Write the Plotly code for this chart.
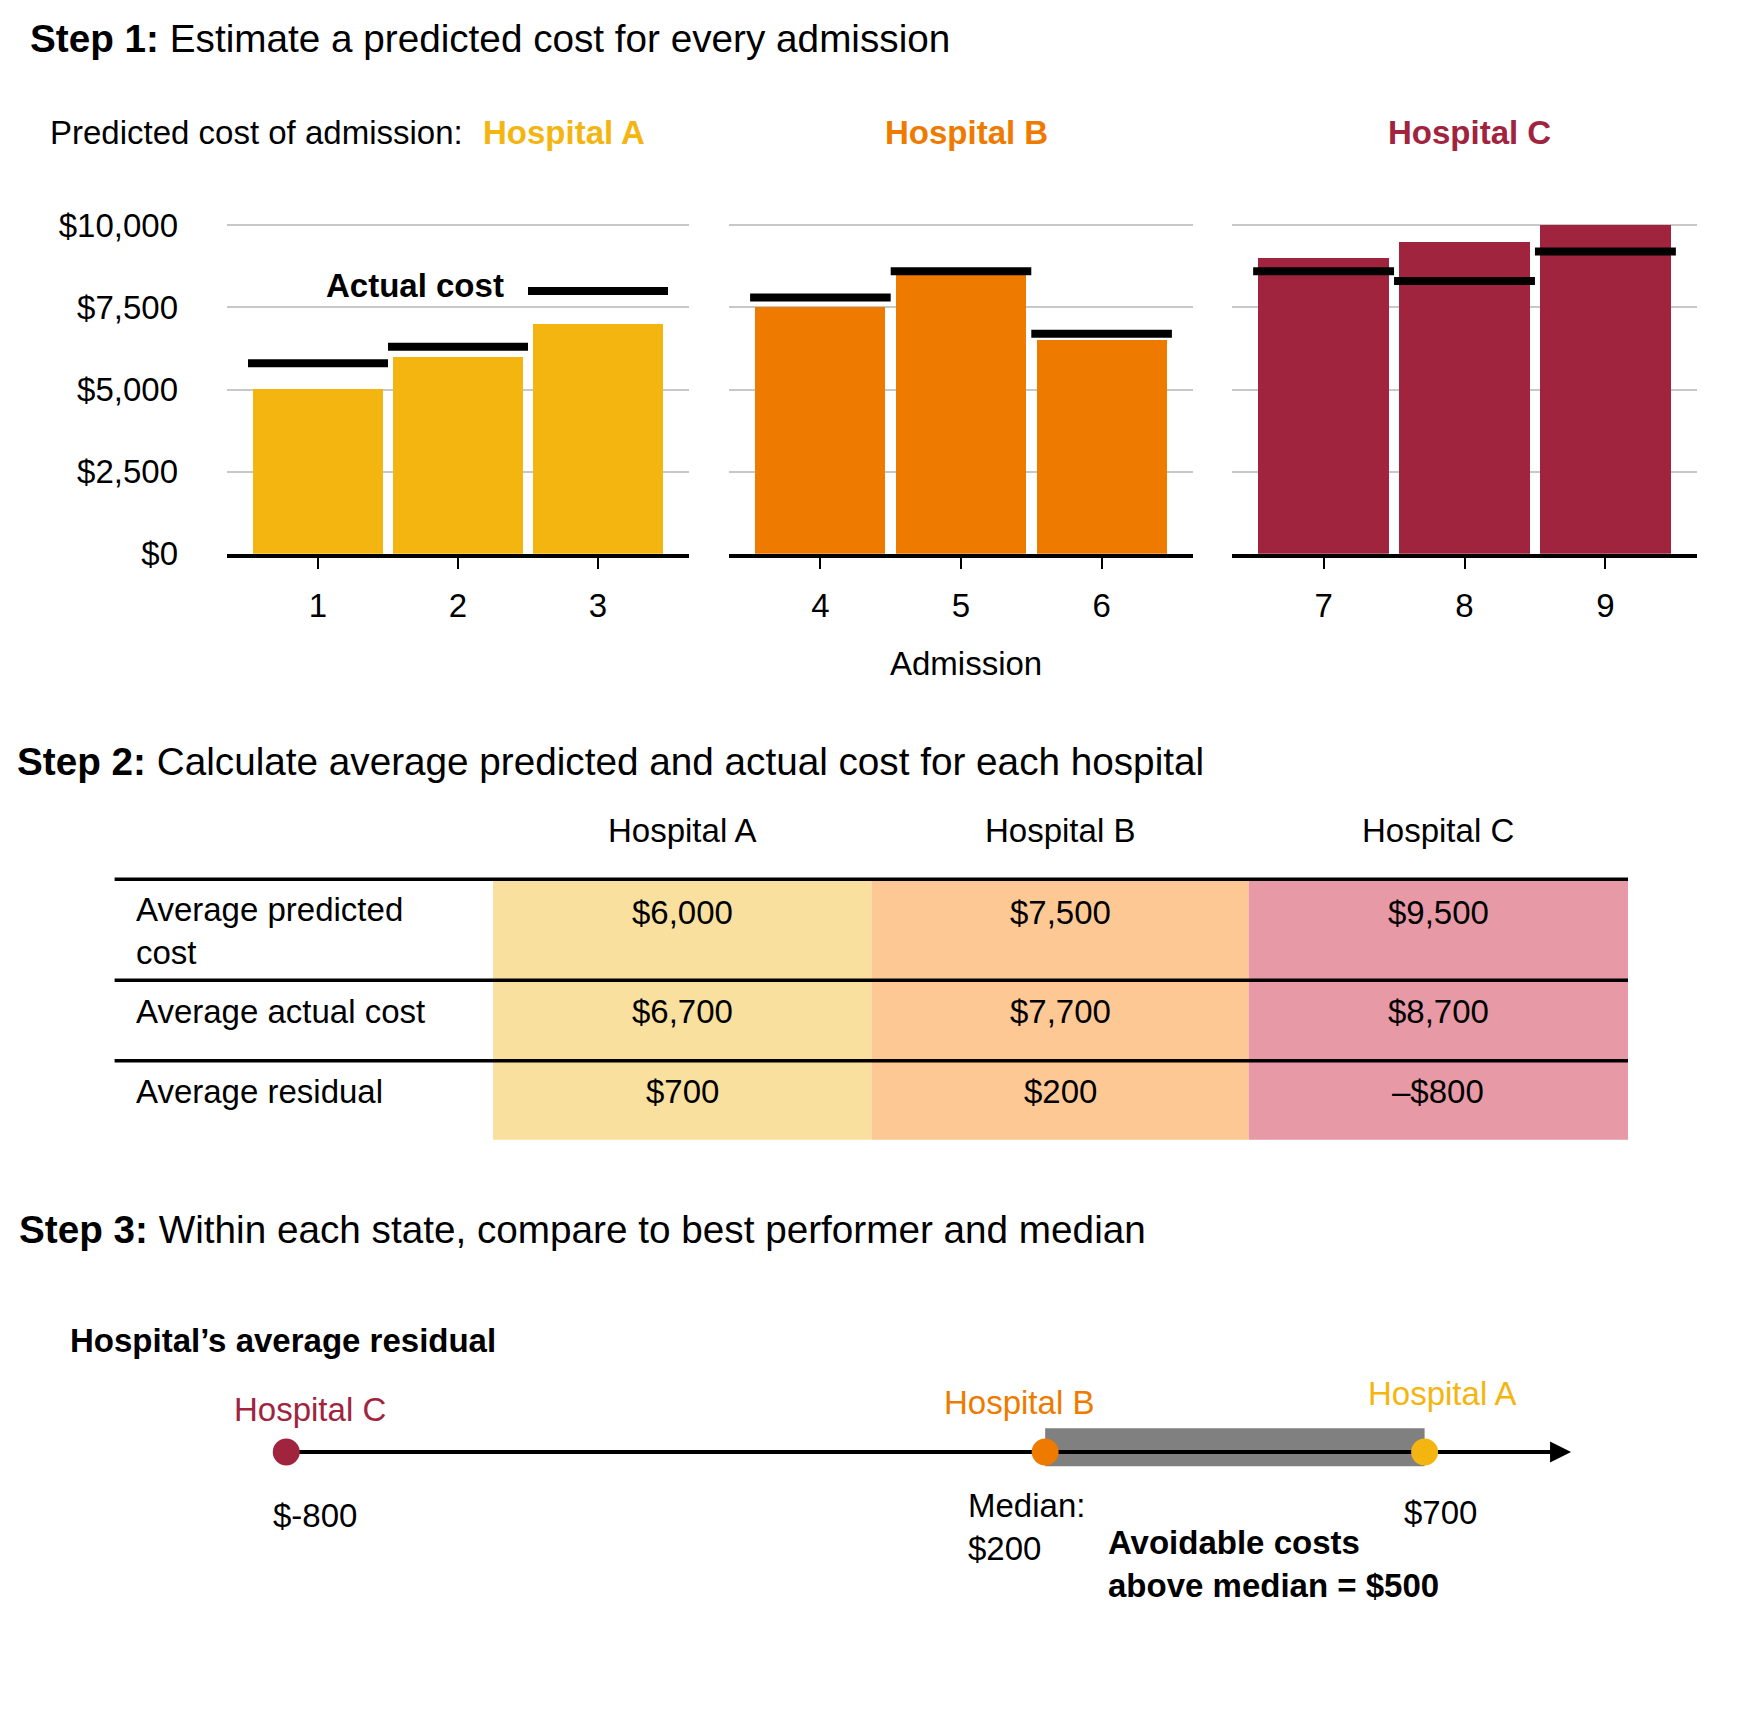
import numpy as np
import plotly.graph_objects as go

# page body keeps its default 8px margin, so the figure is 16px smaller than the window
PAGE_W, PAGE_H = 1745, 1725
OFF = 8
W, H = PAGE_W - 2 * OFF, PAGE_H - 2 * OFF
FONT = "Liberation Sans, Arial, sans-serif"

hospitals = ["Hospital A", "Hospital B", "Hospital C"]
admissions = [[1, 2, 3], [4, 5, 6], [7, 8, 9]]
predicted = [[5000, 6000, 7000], [7500, 8500, 6500], [9000, 9500, 10000]]
actual = [[5800, 6300, 8000], [7800, 8600, 6700], [8600, 8300, 9200]]
y_ticks = [0, 2500, 5000, 7500, 10000]
y_tick_text = ["$0", "$2,500", "$5,000", "$7,500", "$10,000"]

bar_colors = ["#F5B511", "#EE7A00", "#A0243E"]
cell_colors = ["#F9E09E", "#FEC894", "#E899A6"]

# step 2 / step 3 numbers come straight from the admissions
avg_pred = [int(np.mean(p)) for p in predicted]
avg_act = [int(np.mean(a)) for a in actual]
avg_resid = [a - p for a, p in zip(avg_act, avg_pred)]
median_resid = int(np.median(avg_resid))


def px(x):
    return (x - OFF) / W


def py(y):
    return 1 - (y - OFF) / H


def money(v, style="table"):
    if v < 0:
        return ("\u2013$" if style == "table" else "$-") + f"{-v:,}"
    return f"${v:,}"


fig = go.Figure()

# ---- step 1: bar panels ----
x_domains = [(227, 689), (729, 1193), (1232, 1697)]
for i in range(3):
    n = "" if i == 0 else str(i + 1)
    fig.add_trace(go.Bar(
        x=admissions[i], y=predicted[i], width=0.925,
        marker=dict(color=bar_colors[i], line=dict(width=0)),
        xaxis="x" + n, yaxis="y" + n, showlegend=False, hoverinfo="skip"))
    seg_x, seg_y = [], []
    for a, v in zip(admissions[i], actual[i]):
        seg_x += [a - 0.5, a + 0.5, None]
        seg_y += [v, v, None]
    fig.add_trace(go.Scatter(
        x=seg_x, y=seg_y, mode="lines", line=dict(color="black", width=8),
        xaxis="x" + n, yaxis="y" + n, showlegend=False, hoverinfo="skip"))

    fig.update_layout(**{
        "xaxis" + n: dict(
            domain=[px(x_domains[i][0]), px(x_domains[i][1])],
            range=[admissions[i][0] - 0.65, admissions[i][-1] + 0.65],
            tickvals=admissions[i], showgrid=False, zeroline=False,
            showline=True, linecolor="black", linewidth=3.5,
            ticks="outside", ticklen=11, tickwidth=2, tickcolor="black",
            ticklabelstandoff=9,
            tickfont=dict(size=33, color="black", family=FONT),
            anchor="y" + n),
        "yaxis" + n: dict(
            domain=[py(556.5), py(209.9)], range=[0, 10400],
            tickvals=y_ticks, ticktext=y_tick_text,
            showticklabels=(i == 0), showgrid=True, gridcolor="#C8C8C8",
            gridwidth=1.5, zeroline=False, showline=False, ticks="",
            ticklabelstandoff=48,
            tickfont=dict(size=33, color="black", family=FONT),
            anchor="x" + n),
    })

# ---- step 3: residual number line ----
LINE_Y = 1467.5
fig.add_trace(go.Scatter(
    x=avg_resid, y=[0, 0, 0], mode="markers",
    marker=dict(size=27, color=bar_colors, line=dict(width=0)),
    xaxis="x4", yaxis="y4", showlegend=False, hoverinfo="skip", cliponaxis=False))

# linear residual scale: about -1177 at the left page edge, 1122 at the right page edge
fig.update_layout(
    xaxis4=dict(domain=[px(OFF), px(PAGE_W - OFF)],
                range=[-1177.2 + OFF / 0.7589, 1122.2 - OFF / 0.7589], visible=False),
    yaxis4=dict(domain=[py(LINE_Y + 40), py(LINE_Y - 40)], range=[-1, 1], visible=False),
)

shapes = []
ann = []


def text(x, y, s, size=33, color="black", xanchor="left", bold=False, **kw):
    ann.append(dict(
        x=px(x), y=py(y), xref="paper", yref="paper", text=f"<b>{s}</b>" if bold else s,
        showarrow=False, xanchor=xanchor, yanchor="middle", align="left",
        font=dict(size=size, color=color, family=FONT), **kw))


# titles
text(28, 33.5, "<b>Step 1:</b> Estimate a predicted cost for every admission", size=38.7)
text(14.5, 767, "<b>Step 2:</b> Calculate average predicted and actual cost for each hospital", size=38.7)
text(17, 1241.5, "<b>Step 3:</b> Within each state, compare to best performer and median", size=38.7)

# step 1 labels
text(47.5, 129, "Predicted cost of admission:")
text(481, 129, hospitals[0], color=bar_colors[0], bold=True)
text(966, 129, hospitals[1], color=bar_colors[1], bold=True, xanchor="center")
text(1469.5, 129, hospitals[2], color=bar_colors[2], bold=True, xanchor="center")
text(415, 284, "Actual cost", bold=True, xanchor="center", bgcolor="white")
text(966, 668, "Admission", xanchor="center")

# ---- step 2: table ----
col_edges = [493, 871.4, 1248.7, 1628]
top, bottom = 886.7, 1150.7
row_lines = [989, 1070.7]
for i in range(3):
    shapes.append(dict(type="rect", xref="paper", yref="paper",
                       x0=px(col_edges[i]), x1=px(col_edges[i + 1]), y0=py(bottom), y1=py(top),
                       fillcolor=cell_colors[i], line=dict(width=0), layer="below"))
for yl in [top] + row_lines:
    shapes.append(dict(type="line", xref="paper", yref="paper",
                       x0=px(114.6), x1=px(1628), y0=py(yl), y1=py(yl),
                       line=dict(color="black", width=3.5)))

col_centers = [(col_edges[i] + col_edges[i + 1]) / 2 for i in range(3)]
for i, h in enumerate(hospitals):
    text(col_centers[i], 837.3, h, xanchor="center")

row_labels = ["Average predicted<br>cost", "Average actual cost", "Average residual"]
row_values = [avg_pred, avg_act, avg_resid]
row_y = [920, 1020.5, 1101.5]
text(133.5, 939.5, row_labels[0])
text(133.5, row_y[1], row_labels[1])
text(133.5, row_y[2], row_labels[2])
for r in range(3):
    for i in range(3):
        text(col_centers[i], row_y[r], money(row_values[r][i]), xanchor="center")

# ---- step 3 details ----
text(67.7, 1354.5, "Hospital\u2019s average residual", bold=True)

best = max(avg_resid)
shapes.append(dict(type="rect", xref="x4", yref="paper", x0=median_resid, x1=best,
                   y0=py(LINE_Y + 14.5), y1=py(LINE_Y - 24), fillcolor="#808080",
                   line=dict(width=0), layer="below"))
shapes.append(dict(type="line", xref="x4", yref="y4", x0=min(avg_resid), x1=870, y0=0, y1=0,
                   line=dict(color="black", width=4), layer="below"))
ann.append(dict(x=893, y=0, xref="x4", yref="y4", ax=860, ay=0, axref="x4", ayref="y4",
                showarrow=True, arrowhead=2, arrowsize=1.05, arrowwidth=4, arrowcolor="black",
                text=""))

label_pos = {"Hospital A": (1442, 1408.2), "Hospital B": (1019, 1417.6), "Hospital C": (310, 1424.7)}
for i, h in enumerate(hospitals):
    text(label_pos[h][0], label_pos[h][1], h, color=bar_colors[i], xanchor="center")

text(315, 1531.7, money(min(avg_resid), "axis"), xanchor="center")
text(1440, 1529.3, money(best, "axis"), xanchor="center")
text(966, 1544, f"Median:<br>{money(median_resid)}")
text(1106, 1581.2, f"<b>Avoidable costs<br>above median = {money(best - median_resid)}</b>")

fig.update_layout(
    width=W, height=H,
    margin=dict(l=0, r=0, t=0, b=0),
    paper_bgcolor="white", plot_bgcolor="white",
    bargap=0, shapes=shapes, annotations=ann,
    font=dict(family=FONT, color="black"),
)

fig.write_html("out.html")
